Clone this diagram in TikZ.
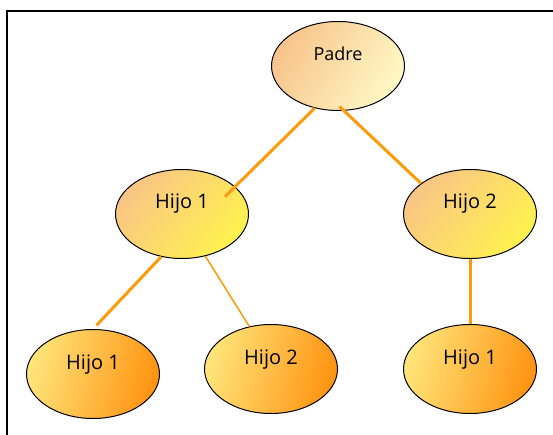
\documentclass[tikz,border=0pt]{standalone}
\usepackage{fontspec}
\setmainfont{Open Sans}
\usetikzlibrary{shapes.geometric, calc}

\definecolor{rama}{HTML}{FF9A0A}
\definecolor{padreA}{HTML}{F8C48C}
\definecolor{padreM}{HTML}{FDE8B0}
\definecolor{padreB}{HTML}{FFF8C4}
\definecolor{hijoA}{HTML}{F9C586}
\definecolor{hijoM}{HTML}{FFEC60}
\definecolor{hijoB}{HTML}{FFF24E}
\definecolor{nietoA}{HTML}{FFE47A}
\definecolor{nietoB}{HTML}{FF9412}

\tikzset{
    caja/.style={ellipse, draw=black, line width=1pt, inner sep=0pt,
        minimum width=133pt, minimum height=89pt,
        text height=12pt, text depth=22pt, font=\fontsize{20}{22}\selectfont},
    padre/.style={caja, left color=padreA, middle color=padreM, right color=padreB,
        shading angle=60, font=\fontsize{18}{20}\selectfont},
    hijo/.style={caja, left color=hijoA, middle color=hijoM, right color=hijoB,
        shading angle=50},
    nieto/.style={caja, left color=nietoA, right color=nietoB, shading angle=75},
    rama/.style={draw=rama, line width=3pt},
}

\begin{document}
\begin{tikzpicture}[x=1pt, y=-1pt]
        \useasboundingbox (0, 0) rectangle (553, 435);
        \draw[line width=2.5pt] (7, 435) -- (7, 11) -- (553, 11);

        \node[padre] (p) at (338, 66) {Padre};
        \node[hijo] (h1) at (182, 214) {Hijo 1};
        \node[hijo] (h2) at (470, 214) {Hijo 2};
        \node[nieto] (n1) at (93, 374) {Hijo 1};
        \node[nieto] (n2) at (271, 369) {Hijo 2};
        \node[nieto] (n3) at (470, 369) {Hijo 1};

        \draw[rama] (p.241) -- ($(h1.center)!0.75!(h1.22)$);
        \draw[rama] ($(p.center)!0.9!(p.272)$) -- (h2.148);
        \draw[rama, shorten >=5pt] (h1.244) -- (n1.north);
        \draw[rama, line width=1.5pt] (h1.299) -- (n2.117);
        \draw[rama] (h2.south) -- (n3.north);
    \end{tikzpicture}
\end{document}
